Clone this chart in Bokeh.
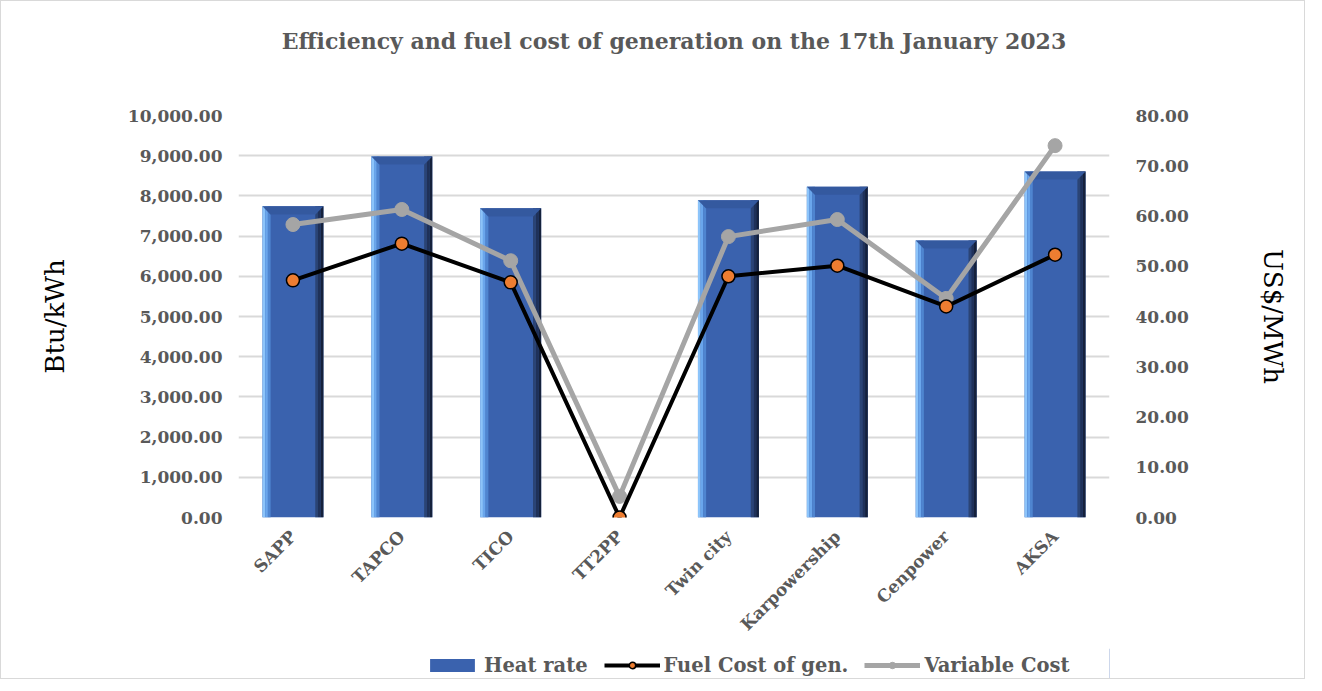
import numpy as np
from bokeh.plotting import figure
from bokeh.layouts import column
from bokeh.models import (Range1d, LinearAxis, NumeralTickFormatter, FixedTicker,
                          Legend, LegendItem, Title)
from bokeh.embed import file_html
from bokeh.resources import INLINE

categories = ["SAPP", "TAPCO", "TICO", "TT2PP", "Twin city", "Karpowership", "Cenpower", "AKSA"]
heat_rate = [7740, 8980, 7690, 0, 7890, 8230, 6890, 8610]
fuel_cost = [47.2, 54.5, 46.8, 0.0, 48.0, 50.1, 42.0, 52.3]
variable_cost = [58.3, 61.3, 51.1, 4.2, 55.9, 59.3, 43.6, 74.0]

SERIF = "DejaVu Serif"
GREY = "#595959"
FACE = "#3A62AE"
LEFT_COLS = ["#8CC4FA", "#6AA6EC", "#4F85D0"]
RIGHT_COLS = ["#2B4475", "#1F3159", "#15213C"]
BEVEL = "#34599F"

n = len(categories)
xs = np.arange(n)
hr = np.array(heat_rate, dtype=float)

p = figure(frame_width=871, frame_height=402, output_backend="svg", toolbar_location=None,
           x_range=Range1d(-0.5, n - 0.5), y_range=Range1d(0, 10000), title=None,
           min_border_left=237, min_border_right=195, min_border_top=0, min_border_bottom=131)
p.outline_line_color = None
p.background_fill_color = "white"
p.border_fill_color = "white"

# spacer nearest the frame, then the main title further out
p.add_layout(Title(text=" ", text_font_size="10px", standoff=25), "above")
p.add_layout(Title(text="Efficiency and fuel cost of generation on the 17th January 2023",
                   align="center", offset=-35, text_font=SERIF, text_font_style="bold",
                   text_font_size="22px", text_color=GREY, standoff=48), "above")

# grid
p.xgrid.grid_line_color = None
p.ygrid.grid_line_color = "#D9D9D9"
p.ygrid.grid_line_width = 2
p.ygrid.ticker = FixedTicker(ticks=list(range(0, 10001, 1000)))

# left axis
ya = p.yaxis[0]
ya.ticker = FixedTicker(ticks=list(range(0, 10001, 1000)))
ya.formatter = NumeralTickFormatter(format="0,0.00")
ya.axis_line_color = None
ya.major_tick_line_color = None
ya.minor_tick_line_color = None
ya.major_tick_out = 0
ya.minor_tick_out = 0
ya.major_label_text_font = SERIF
ya.major_label_text_font_style = "bold"
ya.major_label_text_font_size = "17px"
ya.major_label_text_color = GREY
ya.major_label_standoff = 16
ya.axis_label = "Btu/kWh"
ya.axis_label_text_font = SERIF
ya.axis_label_text_font_style = "normal"
ya.axis_label_text_font_size = "26px"
ya.axis_label_text_color = "black"
ya.axis_label_standoff = 55

# right axis
p.extra_y_ranges = {"cost": Range1d(0, 80)}
ra = LinearAxis(y_range_name="cost")
ra.ticker = FixedTicker(ticks=list(range(0, 81, 10)))
ra.formatter = NumeralTickFormatter(format="0.00")
ra.axis_line_color = None
ra.major_tick_line_color = None
ra.minor_tick_line_color = None
ra.major_label_text_font = SERIF
ra.major_label_text_font_style = "bold"
ra.major_label_text_font_size = "17px"
ra.major_label_text_color = GREY
ra.major_label_standoff = 20
ra.axis_label = "US$/MWh"
ra.axis_label_text_font = SERIF
ra.axis_label_text_font_style = "normal"
ra.axis_label_text_font_size = "26px"
ra.axis_label_text_color = "black"
ra.axis_label_standoff = 66
p.add_layout(ra, "right")

# x axis
xa = p.xaxis[0]
xa.ticker = FixedTicker(ticks=list(xs))
xa.major_label_overrides = {int(i): c for i, c in enumerate(categories)}
xa.major_label_orientation = np.pi / 4
xa.axis_line_color = None
xa.major_tick_line_color = None
xa.minor_tick_line_color = None
xa.major_label_text_font = SERIF
xa.major_label_text_font_style = "bold"
xa.major_label_text_font_size = "17px"
xa.major_label_text_color = GREY
xa.major_label_standoff = 10

# bars with faux bevel
W = 0.56
p.vbar(x=xs, top=hr, width=W, fill_color=FACE, line_color=None)
strip = 0.025
for k, c in enumerate(LEFT_COLS):
    p.vbar(x=xs - W / 2 + strip * (k + 0.5), top=hr, width=strip, fill_color=c, line_color=None)
for k, c in enumerate(RIGHT_COLS):
    p.vbar(x=xs + W / 2 - strip * (2.5 - k), top=hr, width=strip, fill_color=c, line_color=None)
bev_h = 200.0
bev_w = 0.073
px, py = [], []
for x0, t in zip(xs, hr):
    if t <= 0:
        continue
    px.append([x0 - W / 2, x0 + W / 2, x0 + W / 2 - bev_w, x0 - W / 2 + bev_w])
    py.append([t, t, t - bev_h, t - bev_h])
p.patches(px, py, fill_color=BEVEL, line_color=None)

# lines
p.line(xs, variable_cost, y_range_name="cost", line_color="#A5A5A5", line_width=5)
p.scatter(xs, variable_cost, y_range_name="cost", size=14, fill_color="#A5A5A5",
          line_color="#A5A5A5")
p.line(xs, fuel_cost, y_range_name="cost", line_color="black", line_width=4)
p.scatter(xs, fuel_cost, y_range_name="cost", size=13, fill_color="#ED7D31",
          line_color="black", line_width=1.5)

# legend strip below the chart
lg = figure(frame_width=871, height=30, output_backend="svg", toolbar_location=None,
            x_range=Range1d(0, 1), y_range=Range1d(0, 1), x_axis_type=None, y_axis_type=None,
            min_border_left=237, min_border_right=195, min_border_top=0, min_border_bottom=0,
            title=None)
lg.outline_line_color = None
lg.background_fill_alpha = 0
lg.border_fill_alpha = 0
lg.xgrid.visible = False
lg.ygrid.visible = False
# off-range placeholder renderers, only used to draw the legend swatches
r_bar = lg.vbar(x=[5], top=[5], width=0.1, fill_color=FACE, line_color=None)
r_fl = lg.line(x=[5, 6], y=[5, 5], line_color="black", line_width=4)
r_fc = lg.scatter(x=[5], y=[5], size=13, fill_color="#ED7D31", line_color="black", line_width=1.5)
r_vl = lg.line(x=[5, 6], y=[5, 5], line_color="#A5A5A5", line_width=5)
r_vc = lg.scatter(x=[5], y=[5], size=14, fill_color="#A5A5A5", line_color="#A5A5A5")

legend = Legend(items=[
    LegendItem(label="Heat rate", renderers=[r_bar]),
    LegendItem(label="Fuel Cost of gen.", renderers=[r_fl, r_fc]),
    LegendItem(label="Variable Cost", renderers=[r_vl, r_vc]),
], orientation="horizontal", location=(186, 0))
legend.border_line_color = None
legend.background_fill_alpha = 0
legend.label_text_font = SERIF
legend.label_text_font_style = "bold"
legend.label_text_font_size = "19.5px"
legend.label_text_color = GREY
legend.glyph_width = 56
legend.glyph_height = 16
legend.label_height = 26
legend.spacing = 16
legend.label_standoff = 4
legend.padding = 1
legend.margin = 0
lg.add_layout(legend, "center")

layout = column(p, lg, spacing=0, styles={"border": "1px solid #D9D9D9"})

open("out.html", "w").write(file_html(layout, INLINE))
